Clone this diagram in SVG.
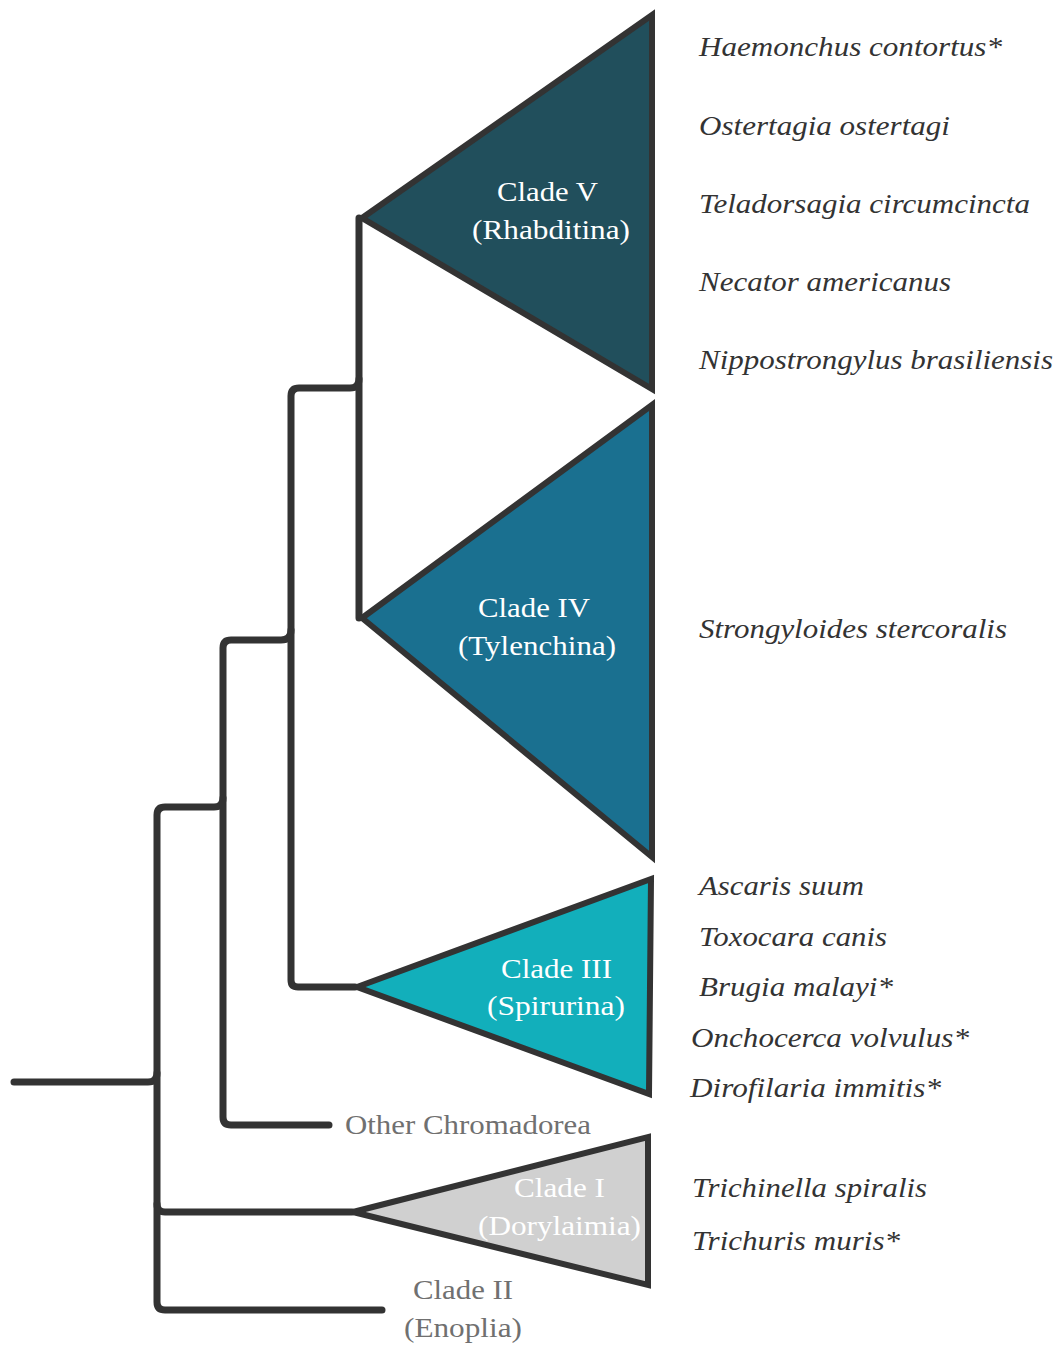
<svg xmlns="http://www.w3.org/2000/svg" width="1061" height="1345" viewBox="0 0 1061 1345">
<style>
.br{fill:none;stroke:#333;stroke-width:7;stroke-linecap:round;stroke-linejoin:round}
.tri{stroke:#333;stroke-width:6;stroke-linejoin:miter}
.lab{font-family:"Liberation Serif",serif;font-size:28px;text-anchor:middle;fill:#fff}
.sp{font-family:"Liberation Serif",serif;font-size:28px;font-style:italic;fill:#333}
.gr{font-family:"Liberation Serif",serif;font-size:28px;fill:#707070}
</style>
<rect width="1061" height="1345" fill="#fff"/>
<g id="connectors">
<path class="br" d="M14,1082 H148 Q157,1082 157,1073 V815 Q157,807 165,807 H214 Q223,807 223,798 V648 Q223,640 231,640 H281 Q291,640 291,630 V396 Q291,388 299,388 H350 Q359,388 359,379 V218"/>
<path class="br" d="M359,379 Q359,388 359,396 V618"/>
<path class="br" d="M291,630 Q291,640 291,650 V980 Q291,987 298,987 H355"/>
<path class="br" d="M223,798 Q223,807 223,816 V1117 Q223,1125 231,1125 H329"/>
<path class="br" d="M157,1073 Q157,1082 157,1091 V1204 Q157,1212 165,1212 H352"/>
<path class="br" d="M157,1204 Q157,1212 157,1220 V1302 Q157,1310 165,1310 H382"/>
</g>
<g id="clade5">
<polygon class="tri" fill="#214f5c" points="362,218 652,15 652,389"/>
<text class="lab" x="547.5" y="201" textLength="101" lengthAdjust="spacingAndGlyphs">Clade V</text>
<text class="lab" x="551" y="239" textLength="158" lengthAdjust="spacingAndGlyphs">(Rhabditina)</text>
</g>
<g id="clade4">
<polygon class="tri" fill="#1a7090" points="362,618 652,405 652,857"/>
<text class="lab" x="534" y="617" textLength="112" lengthAdjust="spacingAndGlyphs">Clade IV</text>
<text class="lab" x="537" y="655" textLength="158" lengthAdjust="spacingAndGlyphs">(Tylenchina)</text>
</g>
<g id="clade3">
<polygon class="tri" fill="#12afbb" points="357,987 651,879 649,1094"/>
<text class="lab" x="556.5" y="978" textLength="111" lengthAdjust="spacingAndGlyphs">Clade III</text>
<text class="lab" x="556" y="1015" textLength="138" lengthAdjust="spacingAndGlyphs">(Spirurina)</text>
</g>
<g id="clade1">
<polygon class="tri" fill="#d0d0d0" points="353,1212 648,1137 648,1285"/>
<text class="lab" x="559.5" y="1197" fill="#f2f2f2" textLength="91" lengthAdjust="spacingAndGlyphs">Clade I</text>
<text class="lab" x="559.5" y="1235" fill="#f2f2f2" textLength="163" lengthAdjust="spacingAndGlyphs">(Dorylaimia)</text>
</g>
<g id="other">
<text class="gr" x="345" y="1134" textLength="246" lengthAdjust="spacingAndGlyphs">Other Chromadorea</text>
</g>
<g id="clade2">
<text class="gr" x="463" y="1299" text-anchor="middle" textLength="100" lengthAdjust="spacingAndGlyphs">Clade II</text>
<text class="gr" x="463" y="1337" text-anchor="middle" textLength="118" lengthAdjust="spacingAndGlyphs">(Enoplia)</text>
</g>
<g id="species">
<text class="sp" x="699" y="56" textLength="303" lengthAdjust="spacingAndGlyphs">Haemonchus contortus*</text>
<text class="sp" x="699" y="135" textLength="251" lengthAdjust="spacingAndGlyphs">Ostertagia ostertagi</text>
<text class="sp" x="699" y="213" textLength="331" lengthAdjust="spacingAndGlyphs">Teladorsagia circumcincta</text>
<text class="sp" x="699" y="291" textLength="252" lengthAdjust="spacingAndGlyphs">Necator americanus</text>
<text class="sp" x="699" y="369" textLength="354" lengthAdjust="spacingAndGlyphs">Nippostrongylus brasiliensis</text>
<text class="sp" x="699" y="638" textLength="308" lengthAdjust="spacingAndGlyphs">Strongyloides stercoralis</text>
<text class="sp" x="699" y="895" textLength="165" lengthAdjust="spacingAndGlyphs">Ascaris suum</text>
<text class="sp" x="699" y="946" textLength="188" lengthAdjust="spacingAndGlyphs">Toxocara canis</text>
<text class="sp" x="699" y="996" textLength="194" lengthAdjust="spacingAndGlyphs">Brugia malayi*</text>
<text class="sp" x="691" y="1047" textLength="278" lengthAdjust="spacingAndGlyphs">Onchocerca volvulus*</text>
<text class="sp" x="690" y="1097" textLength="251" lengthAdjust="spacingAndGlyphs">Dirofilaria immitis*</text>
<text class="sp" x="692" y="1197" textLength="235" lengthAdjust="spacingAndGlyphs">Trichinella spiralis</text>
<text class="sp" x="692" y="1250" textLength="208" lengthAdjust="spacingAndGlyphs">Trichuris muris*</text>
</g>
</svg>
